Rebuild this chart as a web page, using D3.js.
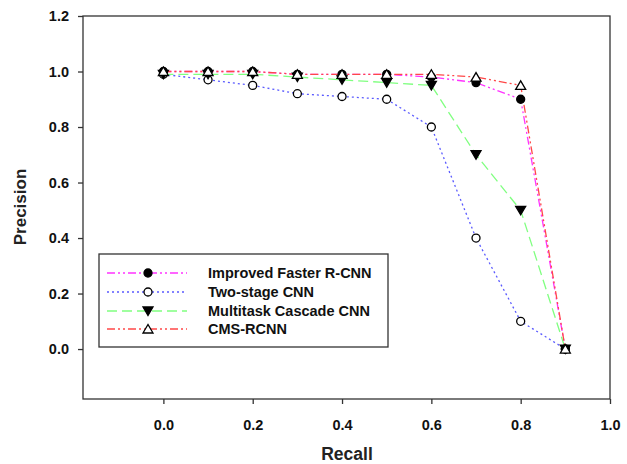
<!DOCTYPE html>
<html><head><meta charset="utf-8">
<script src="https://cdn.jsdelivr.net/npm/d3@7"></script>
<style>body{margin:0;background:#fff;} text{font-family:"Liberation Sans",Arial,sans-serif;font-weight:bold;}</style>
</head><body>
<svg id="c" width="627" height="464"></svg>
<script>
const recall = [0.0,0.1,0.2,0.3,0.4,0.5,0.6,0.7,0.8,0.9];
const improvedFasterRCNN = [1.0,1.0,1.0,0.99,0.99,0.99,0.98,0.96,0.90,0.0];
const twoStageCNN = [0.99,0.97,0.95,0.92,0.91,0.90,0.80,0.40,0.10,0.0];
const multitaskCascadeCNN = [0.99,0.99,0.99,0.98,0.97,0.96,0.95,0.70,0.50,0.0];
const cmsRCNN = [1.0,1.0,1.0,0.99,0.99,0.99,0.99,0.98,0.95,0.0];
const seriesNames = ["Improved Faster R-CNN","Two-stage CNN","Multitask Cascade CNN","CMS-RCNN"];
const xTicks = [0.0,0.2,0.4,0.6,0.8,1.0];
const yTicks = [0.0,0.2,0.4,0.6,0.8,1.0,1.2];

const styles = [
  {color:"#ff33ff", dash:"8,3,2,3,2,3", marker:"circle", fill:"#000"},
  {color:"#5a5aff", dash:"2,3", marker:"circle", fill:"#fff"},
  {color:"#80ff80", dash:"10,5", marker:"down", fill:"#000"},
  {color:"#ff4848", dash:"8,3,2,3,2,3", marker:"up", fill:"#fff"}
];
const allData = [improvedFasterRCNN, twoStageCNN, multitaskCascadeCNN, cmsRCNN];

const svg = d3.select("#c");
const L=83, R=610, T=16, B=399;
const x = d3.scaleLinear().domain([-0.18,1.0]).range([L,R]);
const y = d3.scaleLinear().domain([-0.18,1.2]).range([B,T]);

svg.append("rect").attr("x",L).attr("y",T).attr("width",R-L).attr("height",B-T)
  .attr("fill","none").attr("stroke","#333").attr("stroke-width",1.3);

const xa = svg.append("g").attr("transform",`translate(0,${B})`)
  .call(d3.axisBottom(x).tickValues(xTicks).tickFormat(d3.format(".1f")).tickSize(5).tickPadding(16));
const ya = svg.append("g").attr("transform",`translate(${L},0)`)
  .call(d3.axisLeft(y).tickValues(yTicks).tickFormat(d3.format(".1f")).tickSize(5).tickPadding(9));
[xa,ya].forEach(a=>{
  a.select(".domain").remove();
  a.selectAll("line").attr("stroke","#333").attr("stroke-width",1.3);
  a.selectAll("text").attr("font-size",14.5).attr("fill","#111").style("font-family","'Liberation Sans',Arial,sans-serif").style("font-weight","bold");
});

svg.append("text").attr("x",347).attr("y",460).attr("text-anchor","middle").attr("font-size",17.5).attr("fill","#222").text("Recall");
svg.append("text").attr("transform",`translate(26,${207}) rotate(-90)`).attr("text-anchor","middle").attr("font-size",17).attr("fill","#222").text("Precision");

function drawMarker(g, type, fill, cx, cy){
  if(type==="circle"){
    g.append("circle").attr("cx",cx).attr("cy",cy).attr("r",4).attr("fill",fill).attr("stroke","#000").attr("stroke-width",1.3);
  } else {
    const s = 5;
    const pts = type==="down" ? [[cx-s,cy-s*0.8],[cx+s,cy-s*0.8],[cx,cy+s*0.9]] : [[cx-s,cy+s*0.8],[cx+s,cy+s*0.8],[cx,cy-s*0.9]];
    g.append("polygon").attr("points",pts.map(p=>p.join(",")).join(" ")).attr("fill",fill).attr("stroke","#000").attr("stroke-width",1.3);
  }
}

const line = d3.line().x(d=>x(d[0])).y(d=>y(d[1]));
allData.forEach((vals,i)=>{
  const st = styles[i];
  const pts = recall.map((r,j)=>[r,vals[j]]);
  svg.append("path").attr("d",line(pts)).attr("fill","none").attr("stroke",st.color).attr("stroke-width",1.3).attr("stroke-dasharray",st.dash);
});
allData.forEach((vals,i)=>{
  const st = styles[i];
  const g = svg.append("g");
  recall.forEach((r,j)=>drawMarker(g, st.marker, st.fill, x(r), y(vals[j])));
});

const lg = svg.append("g");
lg.append("rect").attr("x",99).attr("y",254).attr("width",289).attr("height",93).attr("fill","#fff").attr("stroke","#333").attr("stroke-width",1.3);
const rowY = [273,292,311,329];
seriesNames.forEach((n,i)=>{
  const st = styles[i];
  lg.append("line").attr("x1",107).attr("x2",187).attr("y1",rowY[i]).attr("y2",rowY[i]).attr("stroke",st.color).attr("stroke-width",1.3).attr("stroke-dasharray",st.dash);
  drawMarker(lg, st.marker, st.fill, 148, rowY[i]);
  lg.append("text").attr("x",208).attr("y",rowY[i]+5).attr("font-size",14.5).attr("fill","#111").text(n);
});
</script>
</body></html>
